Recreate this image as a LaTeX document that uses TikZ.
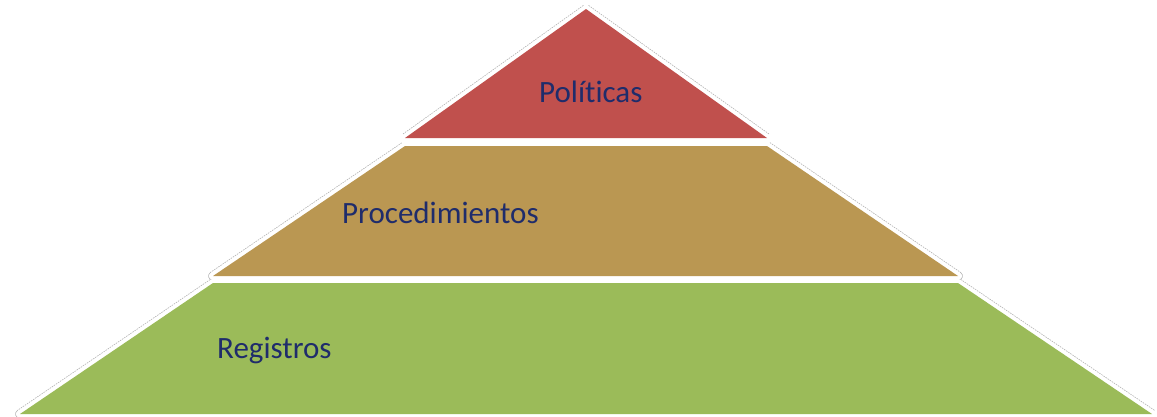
\documentclass[tikz,border=0pt]{standalone}
\usepackage{fontspec}
\setmainfont{Carlito}[Ligatures=NoCommon]
\definecolor{toptierred}{HTML}{C0504D}
\definecolor{midtiertan}{HTML}{BA9752}
\definecolor{basetiergreen}{HTML}{9BBB59}
\definecolor{tierblue}{HTML}{1F2C6B}
\begin{document}
\begin{tikzpicture}[x=1pt,y=-1pt]

      % faint dashed halo outside, then the white rim, then the fill on top
      \tikzstyle{halo}=[draw=black!30, dash pattern=on 1.5pt off 1pt, line width=9.5pt, line join=round]
      \tikzstyle{rim}=[draw=white, line width=8pt, line join=round]
      \tikzstyle{tiertext}=[font=\fontsize{31}{31}\selectfont, text=tierblue, anchor=base west, inner sep=0pt]

      \def\toptier{(586,9) -- (767,138) -- (405,138) -- cycle}                 % Politicas
      \def\midtier{(405,146) -- (767,146) -- (958,276) -- (213,276) -- cycle}  % Procedimientos
      \def\basetier{(213,283) -- (958,283) -- (1152,414) -- (20,414) -- cycle} % Registros

      \useasboundingbox (0,0) rectangle (1157,416);

      \draw [halo] \toptier;
      \draw [halo] \midtier;
      \draw [halo] \basetier;

      \draw [rim] \toptier;
      \draw [rim] \midtier;
      \draw [rim] \basetier;

      \fill [toptierred] \toptier;
      \fill [midtiertan] \midtier;
      \fill [basetiergreen] \basetier;

      \node [tiertext] (politicas) at (539,102) {Políticas};
      \node [tiertext] (procedimientos) at (342,223) {Procedimientos};
      \node [tiertext] (registros) at (217,358) {Registros};

   \end{tikzpicture}
\end{document}
